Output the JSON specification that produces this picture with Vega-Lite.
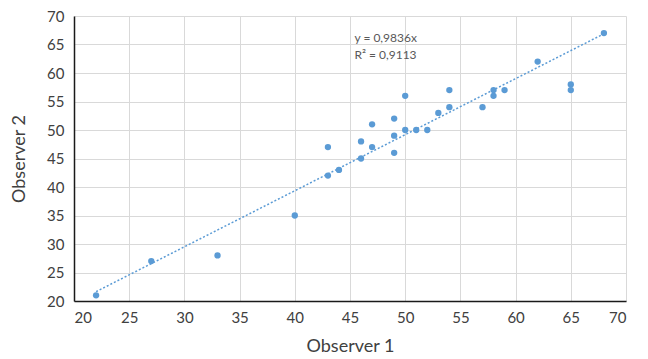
{
  "$schema": "https://vega.github.io/schema/vega-lite/v6.json",
  "autosize": {"type": "none"},
  "width": 552,
  "height": 285,
  "padding": {"left": 74, "top": 16, "right": 22, "bottom": 58},
  "background": "white",
  "config": {
    "font": "Lato",
    "view": {"stroke": null},
    "axis": {
      "gridColor": "#d9d9d9",
      "gridWidth": 1,
      "ticks": false,
      "labelFont": "Lato",
      "labelFontSize": 15,
      "labelColor": "#404040",
      "labelOverlap": false,
      "titleFont": "Lato",
      "titleFontSize": 18,
      "titleFontWeight": "normal",
      "titleColor": "#404040",
      "domainColor": "#1a1a1a",
      "domainWidth": 1.5
    }
  },
  "datasets": {
    "points": [
      {"obs1": 22, "obs2": 21},
      {"obs1": 27, "obs2": 27},
      {"obs1": 33, "obs2": 28},
      {"obs1": 40, "obs2": 35},
      {"obs1": 43, "obs2": 42},
      {"obs1": 43, "obs2": 47},
      {"obs1": 44, "obs2": 43},
      {"obs1": 46, "obs2": 45},
      {"obs1": 46, "obs2": 48},
      {"obs1": 47, "obs2": 47},
      {"obs1": 47, "obs2": 51},
      {"obs1": 49, "obs2": 46},
      {"obs1": 49, "obs2": 49},
      {"obs1": 49, "obs2": 52},
      {"obs1": 50, "obs2": 50},
      {"obs1": 50, "obs2": 56},
      {"obs1": 51, "obs2": 50},
      {"obs1": 52, "obs2": 50},
      {"obs1": 53, "obs2": 53},
      {"obs1": 54, "obs2": 54},
      {"obs1": 54, "obs2": 57},
      {"obs1": 57, "obs2": 54},
      {"obs1": 58, "obs2": 56},
      {"obs1": 58, "obs2": 57},
      {"obs1": 59, "obs2": 57},
      {"obs1": 62, "obs2": 62},
      {"obs1": 65, "obs2": 57},
      {"obs1": 65, "obs2": 58},
      {"obs1": 68, "obs2": 67}
    ],
    "trend": [
      {"obs1": 22, "obs2": 21.64},
      {"obs1": 68, "obs2": 66.88}
    ],
    "labels": [
      {"obs1": 45.4, "obs2": 66.2, "text": "y = 0,9836x"},
      {"obs1": 45.4, "obs2": 63.2, "text": "R² = 0,9113"}
    ]
  },
  "encoding": {
    "x": {"field": "obs1", "type": "quantitative", "scale": {"domain": [20, 70], "nice": false, "zero": false},
      "axis": {"title": "Observer 1", "tickCount": 11, "labelOverlap": false, "labelPadding": 9, "titlePadding": 12}},
    "y": {"field": "obs2", "type": "quantitative", "scale": {"domain": [20, 70], "nice": false, "zero": false},
      "axis": {"title": "Observer 2", "tickCount": 11, "labelOverlap": false, "labelPadding": 10, "titlePadding": 18}}
  },
  "layer": [
    {
      "data": {"name": "trend"},
      "mark": {"type": "line", "color": "#5b9bd5", "strokeDash": [2, 2], "strokeWidth": 1.5}
    },
    {
      "data": {"name": "points"},
      "mark": {"type": "circle", "color": "#5b9bd5", "size": 40, "opacity": 1}
    },
    {
      "data": {"name": "labels"},
      "mark": {"type": "text", "align": "left", "baseline": "middle", "fontSize": 12, "color": "#595959", "font": "Lato"},
      "encoding": {
        "text": {"field": "text"}
      }
    }
  ]
}
